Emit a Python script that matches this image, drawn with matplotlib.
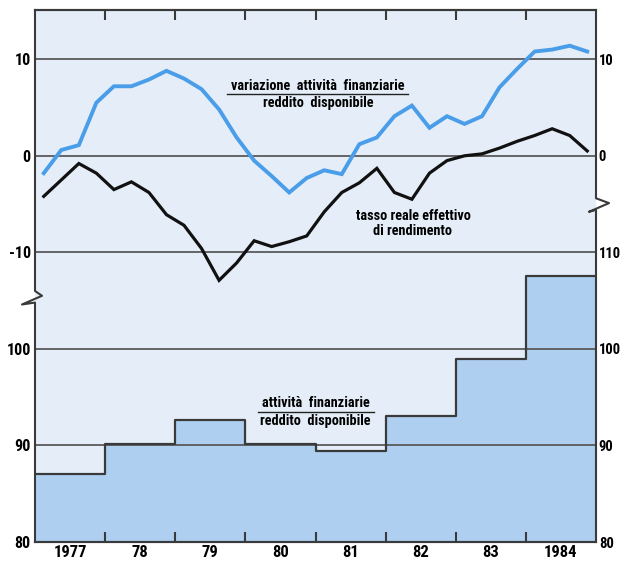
import numpy as np
import matplotlib
matplotlib.use("Agg")
import matplotlib.pyplot as plt
import matplotlib.transforms as mtransforms
from matplotlib import font_manager

# condensed face if there is one, else Arial-like metrics
names = {f.name for f in font_manager.fontManager.ttflist}
narrow = False
for cand in ['Liberation Sans Narrow', 'Roboto Condensed', 'Open Sans Condensed']:
    if cand in names:
        plt.rcParams['font.family'] = [cand, 'DejaVu Sans']
        narrow = True
        break
if not narrow:
    plt.rcParams['font.family'] = ['Liberation Sans', 'DejaVu Sans']

# quarterly series, 1977Q1 .. 1984Q4 (percent)
variazione_attivita = [-1.8, 0.6, 1.1, 5.5,
                       7.2, 7.2, 7.9, 8.8,
                       8.0, 6.9, 4.8, 1.9,
                       -0.5, -2.1, -3.8, -2.3,
                       -1.5, -1.9, 1.2, 1.9,
                       4.1, 5.2, 2.9, 4.1,
                       3.3, 4.1, 7.1, 9.0,
                       10.8, 11.0, 11.4, 10.8]
tasso_reale = [-4.2, -2.5, -0.8, -1.8,
               -3.5, -2.7, -3.8, -6.1,
               -7.2, -9.6, -12.9, -11.1,
               -8.8, -9.4, -8.9, -8.3,
               -5.8, -3.8, -2.8, -1.3,
               -3.8, -4.5, -1.8, -0.5,
               0.0, 0.2, 0.8, 1.5,
               2.1, 2.8, 2.1, 0.5]

# yearly ratio attivita finanziarie / reddito disponibile
years = [1977, 1978, 1979, 1980, 1981, 1982, 1983, 1984]
rapporto = [87.0, 90.2, 92.6, 90.2, 89.4, 93.0, 99.0, 107.6]
year_labels = ['1977', '78', '79', '80', '81', '82', '83', '1984']

# the upper panel is drawn on the same axis, shifted by +120
OFFSET = 120

bg = '#e5eef8'
fill_c = '#aecff0'
blue_c = '#4a9de8'
dark = '#3a3a3a'
grid_c = '#5a5a5a'

if narrow:
    x_fs, yl_fs, yr_fs, lab_fs = 12, 11.5, 10.5, 10.3
else:
    x_fs, yl_fs, yr_fs, lab_fs = 10, 10, 9.5, 8.5

fig = plt.figure(figsize=(6.22, 5.62), dpi=100)
ax = fig.add_axes([35/622, 20/562, 561/622, 532/562])
ax.set_facecolor(bg)

# step area
edges = years + [years[-1] + 1]
vals = rapporto + [rapporto[-1]]
ax.fill_between(edges, 80, vals, step='post', color=fill_c, zorder=1)
ax.step(edges, vals, where='post', color=dark, lw=1.6, zorder=3)

# gridlines
for g in [90, 100, 110, 120, 130]:
    ax.axhline(g, color=grid_c, lw=1.3, zorder=2)

# quarterly lines
xq = years[0] + 0.125 + np.arange(len(tasso_reale)) / 4
ax.plot(xq, np.array(variazione_attivita) + OFFSET, color=blue_c, lw=2.8, zorder=4,
        solid_joinstyle='miter')
ax.plot(xq, np.array(tasso_reale) + OFFSET, color='#111111', lw=2.3, zorder=4,
        solid_joinstyle='miter')

ax.set_xlim(1977, 1985)
ax.set_ylim(80, 135.1)

# x ticks at year boundaries, labels centred in the year
ax.set_xticks(years[1:])
ax.set_xticklabels([])
ax.set_xticks([y + 0.5 for y in years], minor=True)
ax.set_xticklabels(year_labels, minor=True, fontsize=x_fs, fontweight='bold')
ax.tick_params(axis='x', which='major', direction='in', length=7, width=1.5,
               color=dark, top=True, bottom=True)
ax.tick_params(axis='x', which='minor', length=0, pad=2)

yt = [80, 90, 100, 110, 120, 130]
ax.set_yticks(yt)
ax.set_yticklabels(['80', '90', '100', '-10', '0', '10'], fontsize=yl_fs, fontweight='bold')
ax.tick_params(axis='y', length=0, pad=3)

ax2 = ax.twinx()
ax2.set_ylim(ax.get_ylim())
ax2.set_yticks(yt)
ax2.set_yticklabels(['80', '90', '100', '110', '0', '10'], fontsize=yr_fs, fontweight='bold')
ax2.tick_params(axis='y', length=0, pad=2)

for a in (ax, ax2):
    for s in a.spines.values():
        s.set_color(dark)
        s.set_linewidth(1.5)

# axis breaks
for a in (ax, ax2):
    a.spines['left'].set_visible(False)
    a.spines['right'].set_visible(False)
trl = mtransforms.blended_transform_factory(ax.transAxes, ax.transData)
dx = 1 / 561
ax.plot([0, 0, -13*dx, 7*dx, 0, 0], [80, 104.8, 104.6, 105.5, 106.0, 135.1],
        transform=trl, color=dark, lw=1.5, clip_on=False, zorder=5)
ax.plot([1, 1, 1 - 7*dx, 1 + 13*dx, 1, 1], [80, 114.4, 114.2, 115.1, 115.6, 135.1],
        transform=trl, color=dark, lw=1.5, clip_on=False, zorder=5)

# labels
ax.text(1981.03, 126.55, 'variazione  attività  finanziarie', ha='center', va='bottom',
        fontsize=lab_fs, fontweight='bold', zorder=6)
ax.plot([1979.74, 1982.32], [126.4, 126.4], color='#222222', lw=1.0, zorder=6)
ax.text(1981.04, 126.15, 'reddito  disponibile', ha='center', va='top',
        fontsize=lab_fs, fontweight='bold', zorder=6)

ax.text(1982.39, 113.0, 'tasso reale effettivo\ndi rendimento', ha='center', va='center',
        fontsize=lab_fs, fontweight='bold', linespacing=1.15, zorder=6)

ax.text(1981.0, 93.65, 'attività  finanziarie', ha='center', va='bottom',
        fontsize=lab_fs, fontweight='bold', zorder=6)
ax.plot([1980.18, 1981.83], [93.5, 93.5], color='#222222', lw=1.0, zorder=6)
ax.text(1981.0, 93.25, 'reddito  disponibile', ha='center', va='top',
        fontsize=lab_fs, fontweight='bold', zorder=6)

fig.savefig('out.png', dpi=100, facecolor='white')
